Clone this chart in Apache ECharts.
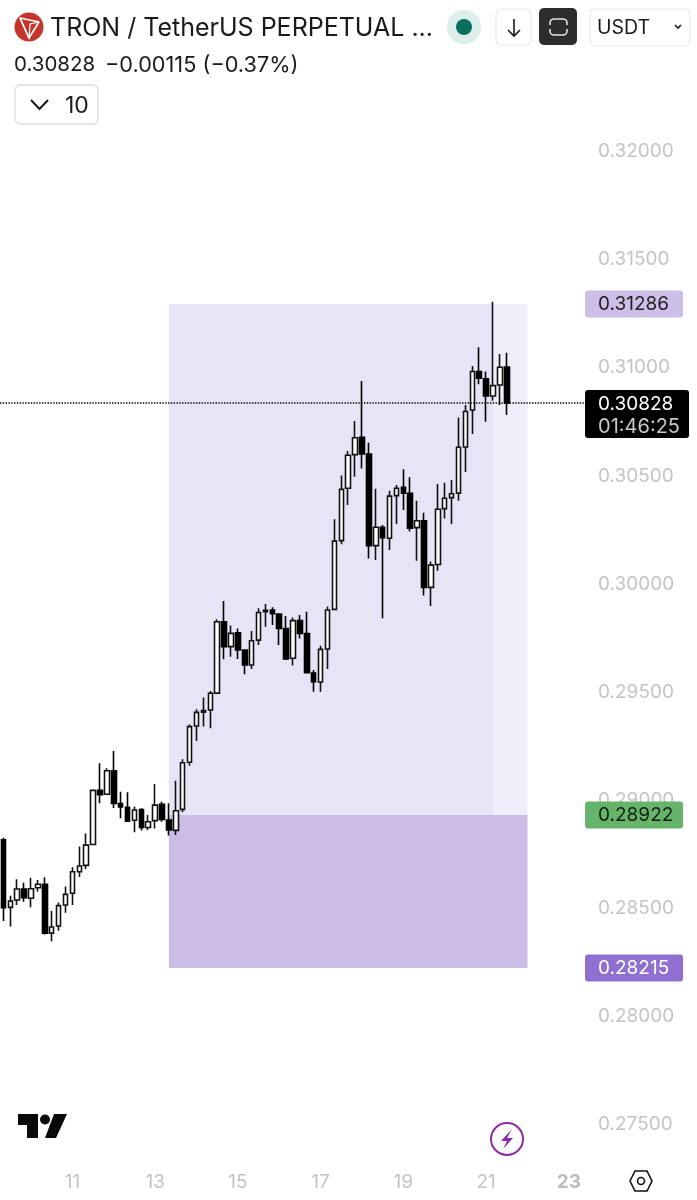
<!DOCTYPE html>
<html><head><meta charset="utf-8">
<style>html,body{margin:0;padding:0;background:#fff}#c{width:697px;height:1200px}</style>
<script src="https://cdn.jsdelivr.net/npm/echarts@6/dist/echarts.min.js"></script>
</head><body><div id="c"></div>
<script>
const opens=[.28807,.28495,.28529,.28580,.28537,.28586,.28602,.28376,.28409,.28506,.28560,.28660,.28689,.28786,.29036,.29018,.29127,.28975,.28958,.28898,.28947,.28864,.28896,.28972,.28899,.28851,
.28948,.29166,.29334,.29398,.29408,.29486,.29816,.29701,.29765,.29685,.29616,.29731,.29862,.29870,.29852,.29785,.29647,.29821,.29761,.29579,.29537,.29690,
.29873,.30191,.30433,.30589,.30669,.30592,.30168,.30253,.30202,.30399,.30438,.30410,.30251,.30283,.29975,.30081,.30339,.30390,.30411,.30624,
.30795,.30973,.30940,.30860,.30911,.30994];
const closes=[.28494,.28524,.28580,.28540,.28581,.28602,.28375,.28404,.28503,.28555,.28660,.28686,.28783,.29036,.29016,.29127,.28975,.28959,.28894,.28945,.28865,.28891,.28968,.28901,.28853,.28942,
.29164,.29331,.29397,.29405,.29485,.29816,.29701,.29762,.29685,.29616,.29728,.29859,.29869,.29853,.29785,.29644,.29821,.29762,.29580,.29539,.29688,.29870,
.30189,.30428,.30586,.30667,.30592,.30168,.30253,.30205,.30397,.30433,.30410,.30248,.30283,.29975,.30078,.30336,.30387,.30408,.30623,.30788,
.30973,.30942,.30860,.30908,.30993,.30828];
const lows=[.28432,.28406,.28506,.28521,.28495,.28568,.28370,.28338,.28387,.28470,.28506,.28635,.28672,.28786,.28976,.29015,.28955,.28907,.28891,.28842,.28850,.28853,.28860,.28891,.28827,.28830,
.28935,.29150,.29264,.29331,.29323,.29485,.29642,.29654,.29644,.29573,.29597,.29708,.29793,.29801,.29708,.29639,.29614,.29739,.29577,.29492,.29492,.29597,
.29870,.30174,.30356,.30487,.30525,.30109,.30102,.29832,.30148,.30268,.30333,.30233,.30098,.29937,.29889,.30052,.30294,.30268,.30376,.30508,
.30684,.30914,.30741,.30838,.30818,.30772];
const highs=[.28817,.28549,.28625,.28609,.28632,.28622,.28634,.28478,.28518,.28591,.28680,.28776,.28837,.29038,.29161,.29138,.29218,.29030,.29027,.28961,.28953,.28922,.29066,.28984,.28976,.29081,
.29180,.29341,.29411,.29466,.29496,.29827,.29912,.29798,.29785,.29688,.29773,.29878,.29898,.29883,.29855,.29842,.29836,.29847,.29862,.29593,.29705,.29886,
.30290,.30492,.30606,.30744,.30929,.30644,.30431,.30263,.30422,.30448,.30521,.30484,.30376,.30320,.30094,.30453,.30459,.30471,.30761,.30818,
.30999,.31085,.30973,.31296,.31054,.31060];
const dayLabels={10:'11',22:'13',34:'15',46:'17',58:'19',70:'21',82:'23'};
const categories=Array.from({length:85},(_,i)=>dayLabels[i]||'c'+i);
const entryLevel=.28922, stopLevel=.28215, targetLevel=.31286, lastPrice=.30828;
const zoneStart=24, zoneSplit=71, zoneEnd=76;
const UI='Inter, Roboto, sans-serif';
const ohlc=opens.map((o,i)=>[o,closes[i],lows[i],highs[i]]);
const badge=(val,bg,fg)=>({yAxis:val,lineStyle:{color:'transparent'},label:{show:true,position:'end',distance:0,formatter:val.toFixed(5),
  backgroundColor:bg,color:fg,fontFamily:UI,fontSize:19,width:85,height:27,lineHeight:28,padding:[0,0,0,13],borderRadius:3,align:'left',offset:[-1,0]}});
const g=[];
const txt=(x,y,t,s,c,w)=>g.push({type:'text',x,y,style:{text:t,fontFamily:UI,fontSize:s,fill:c||'#1a1a1a',fontWeight:w||400,verticalAlign:'middle'}});
const box=(x,y,w,h,st,r)=>g.push({type:'rect',shape:{x,y,width:w,height:h,r:r||5},style:st});
// logo
g.push({type:'circle',shape:{cx:29,cy:27,r:14.5},style:{fill:'#c4362b'}});
g.push({type:'polygon',shape:{points:[[20,18],[39,22],[29,38]]},style:{fill:'none',stroke:'#fff',lineWidth:1.6,lineJoin:'round'}});
g.push({type:'polyline',shape:{points:[[20,18],[29,38],[30,24],[39,22]]},style:{fill:'none',stroke:'#fff',lineWidth:1.2}});
txt(50,28,'TRON / TetherUS PERPETUAL ...',25);
txt(14,65,'0.30828',20.5);
txt(105,65,'−0.00115 (−0.37%)',21.7);
g.push({type:'circle',shape:{cx:464,cy:27,r:17},style:{fill:'#dcefeb'}});
g.push({type:'circle',shape:{cx:464,cy:27,r:8},style:{fill:'#0b6e5a'}});
box(496,9,35,36,{fill:'#fff',stroke:'#e8e8e8',lineWidth:1.2});
g.push({type:'polyline',shape:{points:[[514,19],[514,36]]},style:{stroke:'#1a1a1a',lineWidth:1.6,fill:'none'}});
g.push({type:'polyline',shape:{points:[[508,30],[514,36],[520,30]]},style:{stroke:'#1a1a1a',lineWidth:1.6,fill:'none'}});
box(539,8,38,37,{fill:'#2d2d2d'},5);
box(550,19,17,16,{fill:'none',stroke:'#e6e6e6',lineWidth:1.6},4);
g.push({type:'rect',shape:{x:547,y:25,width:23,height:4},style:{fill:'#2d2d2d'}});
box(590,9,100,37,{fill:'#fff',stroke:'#e8e8e8',lineWidth:1.2},5);
txt(597,28,'USDT',19.5);
g.push({type:'polyline',shape:{points:[[675,25],[678,28],[681,25]]},style:{stroke:'#1a1a1a',lineWidth:1.6,fill:'none'}});
box(15,85,83,39,{fill:'#fff',stroke:'#dedede',lineWidth:1.4},5);
g.push({type:'polyline',shape:{points:[[31,100],[39.500,109],[48,100]]},style:{stroke:'#1a1a1a',lineWidth:2,fill:'none'}});
txt(65,106,'10',23);
// TradingView mark
g.push({type:'polygon',shape:{points:[[18,1114],[38,1114],[38,1138],[27,1138],[27,1125],[18,1125]]},style:{fill:'#0a0a0a'}});
g.push({type:'circle',shape:{cx:45,cy:1119.500,r:5},style:{fill:'#0a0a0a'}});
g.push({type:'polygon',shape:{points:[[54,1114],[67,1114],[56,1138],[45,1138]]},style:{fill:'#0a0a0a'}});
// bolt
g.push({type:'circle',shape:{cx:507,cy:1139,r:16},style:{fill:'#fff',stroke:'#8f2aa6',lineWidth:2}});
g.push({type:'polygon',shape:{points:[[512,1129],[501,1141],[507,1141],[503,1149],[513,1138],[507,1138]]},style:{fill:'#8f2aa6'}});
// settings
g.push({type:'polygon',shape:{points:[[635,1171],[647,1171],[652,1181],[647,1191],[635,1191],[630,1181]]},style:{fill:'#fff',stroke:'#111',lineWidth:1.6}});
g.push({type:'circle',shape:{cx:641,cy:1181,r:3.500},style:{fill:'#fff',stroke:'#111',lineWidth:1.6}});

const chart=echarts.init(document.getElementById('c'),null,{renderer:'canvas'});
chart.setOption({
  animation:false,
  backgroundColor:'#fff',
  grid:{left:-0.45,right:110.95,top:149.5,bottom:77.5},
  xAxis:{type:'category',data:categories,boundaryGap:true,axisLine:{show:false},axisTick:{show:false},splitLine:{show:false},
    axisLabel:{interval:i=>dayLabels[i]!==undefined,margin:50,fontFamily:UI,fontSize:19,color:'#c4c4c4',hideOverlap:false,
      formatter:v=>v==='23'?'{b|23}':v,rich:{b:{fontWeight:700,fontFamily:UI,fontSize:19,color:'#bcbcbc'}}}},
  yAxis:{type:'value',position:'right',min:.275,max:.32,interval:.005,axisLine:{show:false},axisTick:{show:false},splitLine:{show:false},
    axisLabel:{margin:12,fontFamily:UI,fontSize:19,color:'#c4c4c4',formatter:v=>'{v|'+v.toFixed(5)+'}',
      rich:{v:{fontFamily:UI,fontSize:19,color:'#c4c4c4',padding:[4,0,0,0]}}}},
  series:[{
    type:'candlestick',data:ohlc,barWidth:5,z:3,
    itemStyle:{color:'#fff',color0:'#000',borderColor:'#111',borderColor0:'#000',borderWidth:1.6},
    markArea:{silent:true,z:1,data:[
      [{xAxis:categories[zoneStart],yAxis:targetLevel,itemStyle:{color:'#e8e3f5'}},{xAxis:categories[zoneSplit],yAxis:entryLevel}],
      [{xAxis:categories[zoneSplit],yAxis:targetLevel,itemStyle:{color:'#f0edfa'}},{xAxis:categories[zoneEnd],yAxis:entryLevel}],
      [{xAxis:categories[zoneStart],yAxis:entryLevel,itemStyle:{color:'#ccbde7'}},{xAxis:categories[zoneEnd],yAxis:stopLevel}]
    ]},
    markLine:{silent:true,symbol:'none',animation:false,precision:5,data:[
      {yAxis:lastPrice,lineStyle:{color:'#000',width:1.5,type:[1.4,1.4]},label:{show:true,position:'end',distance:0,
        formatter:'{a|0.30828}\n{b|01:46:25}',backgroundColor:'#000',borderRadius:3,padding:[3,0,0,13],width:91,offset:[-1,11],align:'left',
        rich:{a:{color:'#fff',fontFamily:UI,fontSize:19,lineHeight:22.5,height:22.5},b:{color:'#c8c8c8',fontFamily:UI,fontSize:20,lineHeight:22.5,height:22.5}}}},
      badge(targetLevel,'#cdbfe8','#222'),
      badge(entryLevel,'#66b36a','#102010'),
      badge(stopLevel,'#8f6fd0','#fff')
    ]}
  }],
  graphic:g
});
</script></body></html>
